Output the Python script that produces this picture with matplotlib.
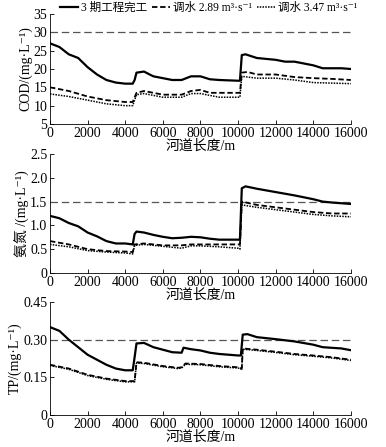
import matplotlib
matplotlib.use("Agg")
import matplotlib.pyplot as plt

plt.rcParams['font.family'] = ['Liberation Serif', 'Noto Sans CJK SC', 'DejaVu Serif']

# ---- COD ----
cod_x1 = [0, 500, 1000, 1500, 2000, 2500, 3000, 3500, 4000, 4400, 4500, 4600, 5000, 5300, 5500, 6000,
          6500, 7000, 7500, 8000, 8500, 9000, 10000, 10100, 10200, 10400, 11000, 12000, 12500, 13000,
          14000, 14500, 15500, 16000]
cod_y1 = [27, 26, 24, 23, 20.5, 18.5, 17, 16.3, 16, 16, 17, 19, 19.3, 18.5, 18, 17.5,
          17, 17, 18, 18, 17.2, 17, 16.8, 16.8, 23.8, 24, 23, 22.5, 22, 22,
          21, 20.2, 20.2, 20]
cod_x2 = [0, 1000, 2000, 2500, 3000, 4000, 4400, 4600, 5000, 5500, 6000, 7000, 7500, 8000, 8500, 9000,
          10000, 10100, 10200, 10500, 11000, 12000, 13000, 14000, 15000, 16000]
cod_y2 = [15, 14, 12.5, 12, 11.5, 11, 11, 13.5, 14, 13.5, 13, 13, 14, 14.3, 13.5, 13.5,
          13.5, 13.5, 19, 19.2, 18.5, 18.5, 17.8, 17.5, 17.3, 17]
cod_x3 = [0, 1000, 2000, 3000, 4000, 4400, 4600, 5000, 6000, 7000, 7500, 8000, 9000, 10100, 10200,
          11000, 12000, 13000, 14000, 16000]
cod_y3 = [13.2, 12.5, 11.5, 10.5, 10, 10, 13, 13.3, 12.3, 12.3, 13.3, 13.3, 12.3, 12.3, 18,
          17.5, 17.5, 17, 16.3, 16]

# ---- NH3-N ----
nh_x1 = [0, 500, 1000, 1500, 2000, 2500, 3000, 3500, 4000, 4400, 4500, 4600, 5000, 5500, 6000, 6500,
         7000, 7500, 8000, 8500, 9000, 10000, 10100, 10200, 10400, 11000, 12000, 13000, 14000, 14500,
         15000, 16000]
nh_y1 = [1.2, 1.15, 1.05, 0.98, 0.85, 0.77, 0.67, 0.62, 0.62, 0.6, 0.82, 0.87, 0.85, 0.8, 0.76, 0.73,
         0.74, 0.76, 0.75, 0.72, 0.7, 0.7, 0.7, 1.78, 1.82, 1.77, 1.7, 1.63, 1.55, 1.5,
         1.48, 1.45]
nh_x2 = [0, 1000, 2000, 3000, 4000, 4400, 4500, 5000, 6000, 7000, 7500, 8000, 9000, 10100, 10200,
         11000, 12000, 13000, 14000, 15000, 16000]
nh_y2 = [0.67, 0.6, 0.5, 0.46, 0.45, 0.44, 0.6, 0.62, 0.58, 0.58, 0.6, 0.6, 0.6, 0.6, 1.5,
         1.43, 1.38, 1.33, 1.28, 1.25, 1.25]
nh_x3 = [0, 1000, 2000, 3000, 4000, 4400, 4500, 5000, 6000, 7000, 7500, 8000, 9000, 10000, 10100,
         10200, 11000, 12000, 13000, 14000, 15000, 16000]
nh_y3 = [0.6, 0.55, 0.47, 0.44, 0.42, 0.4, 0.58, 0.6, 0.56, 0.52, 0.57, 0.57, 0.55, 0.52, 0.5,
         1.43, 1.38, 1.33, 1.28, 1.23, 1.2, 1.18]

# ---- TP ----
tp_x1 = [0, 500, 1000, 1500, 2000, 2500, 3000, 3500, 4000, 4400, 4500, 4600, 5000, 5500, 6000, 6500,
         7000, 7100, 7500, 8000, 8500, 9000, 10000, 10150, 10250, 10500, 11000, 12000, 13000, 14000,
         14500, 15500, 16000]
tp_y1 = [0.35, 0.335, 0.3, 0.27, 0.24, 0.22, 0.2, 0.185, 0.178, 0.178, 0.23, 0.285, 0.287, 0.27, 0.26, 0.25,
         0.248, 0.268, 0.262, 0.257, 0.248, 0.243, 0.237, 0.237, 0.32, 0.322, 0.31, 0.302, 0.293, 0.28,
         0.27, 0.265, 0.258]
tp_x2 = [0, 1000, 2000, 3000, 4000, 4500, 4600, 5000, 6000, 6800, 7000, 7200, 8000, 9000, 10000,
         10200, 10250, 11000, 12000, 13000, 14000, 15000, 16000]
tp_y2 = [0.2, 0.185, 0.16, 0.145, 0.135, 0.135, 0.21, 0.208, 0.195, 0.188, 0.19, 0.205, 0.203, 0.195, 0.19,
         0.185, 0.265, 0.26, 0.252, 0.243, 0.237, 0.23, 0.22]
tp_x3 = tp_x2
tp_y3 = [0.197, 0.182, 0.157, 0.142, 0.132, 0.132, 0.207, 0.205, 0.192, 0.185, 0.187, 0.202, 0.2, 0.192,
         0.187, 0.182, 0.262, 0.257, 0.249, 0.24, 0.234, 0.227, 0.217]

labels = ['3 期工程完工', '调水 2.89 m³·s⁻¹', '调水 3.47 m³·s⁻¹']

panels = [
    dict(pos=[0.1295, 0.7226, 0.7795, 0.2461], lines=[(cod_x1, cod_y1), (cod_x2, cod_y2), (cod_x3, cod_y3)],
         std=30, ylim=(5, 35), yticks=[5, 10, 15, 20, 25, 30, 35], ylabels=None,
         ylabel='COD/(mg·L⁻¹)'),
    dict(pos=[0.1295, 0.3893, 0.7795, 0.2662], lines=[(nh_x1, nh_y1), (nh_x2, nh_y2), (nh_x3, nh_y3)],
         std=1.5, ylim=(0, 2.5), yticks=[0, 0.5, 1.0, 1.5, 2.0, 2.5],
         ylabels=['0', '0.5', '1.0', '1.5', '2.0', '2.5'], ylabel='氨氮 /(mg·L⁻¹)'),
    dict(pos=[0.1295, 0.0716, 0.7795, 0.2528], lines=[(tp_x1, tp_y1), (tp_x2, tp_y2), (tp_x3, tp_y3)],
         std=0.3, ylim=(0, 0.45), yticks=[0, 0.15, 0.30, 0.45],
         ylabels=['0', '0.15', '0.30', '0.45'], ylabel='TP/(mg·L⁻¹)'),
]

styles = [dict(ls='-', lw=1.6), dict(ls=(0, (3, 1.5)), lw=1.3), dict(ls=(0, (1, 0.8)), lw=1.1)]

fig = plt.figure(figsize=(3.86, 4.47), dpi=100)
handles = []
for p in panels:
    ax = fig.add_axes(p['pos'])
    ax.axhline(p['std'], color='#555555', ls=(0, (6, 3)), lw=0.9)
    hs = []
    for (x, y), st in zip(p['lines'], styles):
        h, = ax.plot(x, y, color='black', **st)
        hs.append(h)
    handles = hs
    ax.set_xlim(0, 16000)
    ax.set_ylim(*p['ylim'])
    ax.set_xticks(range(0, 16001, 2000))
    ax.set_yticks(p['yticks'])
    if p['ylabels']:
        ax.set_yticklabels(p['ylabels'])
    ax.spines['top'].set_visible(False)
    ax.spines['right'].set_visible(False)
    ax.spines['left'].set_linewidth(0.6)
    ax.spines['bottom'].set_linewidth(0.6)
    ax.tick_params(direction='in', length=3, width=0.6, labelsize=10, pad=2)
    ax.set_xlabel('河道长度/m', fontsize=10, labelpad=0)
    ax.set_ylabel(p['ylabel'], fontsize=10, labelpad=1)

fig.legend(handles, labels, loc='center', bbox_to_anchor=(0.54, 0.982), ncol=3, frameon=False,
           fontsize=8.3, handlelength=1.6, handletextpad=0.25, columnspacing=0.4, borderpad=0)

fig.savefig('out.png', dpi=100)
